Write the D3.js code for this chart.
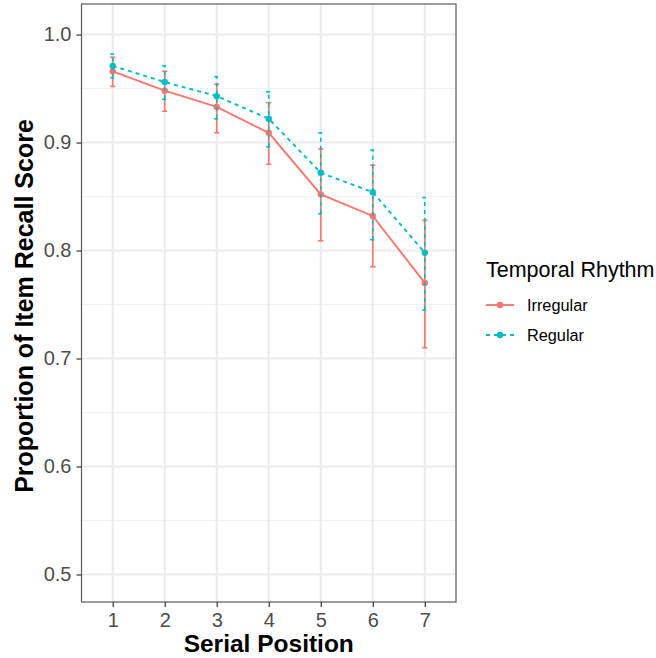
<!DOCTYPE html>
<html>
<head>
<meta charset="utf-8">
<script src="https://cdn.jsdelivr.net/npm/d3@7"></script>
<style>
  body { margin: 0; background: #fff; }
  svg text { font-family: "Liberation Sans", Arial, Helvetica, sans-serif; }
</style>
</head>
<body>
<div id="chart"></div>
<script>
// serial positions 1..7
var positions = [1, 2, 3, 4, 5, 6, 7];
var irregularMean = [0.966, 0.948, 0.933, 0.909, 0.852, 0.832, 0.770];
var irregularLow  = [0.952, 0.929, 0.909, 0.880, 0.809, 0.785, 0.710];
var irregularHigh = [0.979, 0.966, 0.954, 0.937, 0.894, 0.879, 0.828];
var regularMean = [0.971, 0.956, 0.943, 0.922, 0.872, 0.854, 0.798];
var regularLow  = [0.960, 0.940, 0.922, 0.896, 0.834, 0.810, 0.745];
var regularHigh = [0.982, 0.971, 0.961, 0.947, 0.909, 0.893, 0.849];
var yTicks = [0.5, 0.6, 0.7, 0.8, 0.9, 1.0];
var yMinor = [0.55, 0.65, 0.75, 0.85, 0.95];

var series = [
    { name: 'Irregular', color: '#F8766D', dash: null, mean: irregularMean, low: irregularLow, high: irregularHigh },
    { name: 'Regular', color: '#00BFC4', dash: '4,4', mean: regularMean, low: regularLow, high: regularHigh }
];

var W = 656, H = 658;
var panel = { left: 81.5, right: 456, top: 4, bottom: 602 };

var x = d3.scaleLinear().domain([0.4, 7.6]).range([panel.left, panel.right]);
var y = d3.scaleLinear().domain([0.4745, 1.0283]).range([panel.bottom, panel.top]);

var svg = d3.select('#chart').append('svg')
    .attr('width', W)
    .attr('height', H);

var g = svg.append('g');

// grid
g.selectAll('.minor').data(yMinor).enter().append('line')
    .attr('x1', panel.left).attr('x2', panel.right)
    .attr('y1', function(d) { return y(d); }).attr('y2', function(d) { return y(d); })
    .style('stroke', '#F3F3F3').style('stroke-width', 1);

g.selectAll('.ymajor').data(yTicks).enter().append('line')
    .attr('x1', panel.left).attr('x2', panel.right)
    .attr('y1', function(d) { return y(d); }).attr('y2', function(d) { return y(d); })
    .style('stroke', '#EBEBEB').style('stroke-width', 2);

g.selectAll('.xmajor').data(positions).enter().append('line')
    .attr('y1', panel.top).attr('y2', panel.bottom)
    .attr('x1', function(d) { return x(d); }).attr('x2', function(d) { return x(d); })
    .style('stroke', '#EBEBEB').style('stroke-width', 2);

// error bars, lines, points
var capW = 2.6;
series.forEach(function(s) {
    var sg = g.append('g');
    positions.forEach(function(p, i) {
        var eg = sg.append('g')
            .style('stroke', s.color).style('stroke-width', 1.6)
            .style('stroke-dasharray', s.dash);
        eg.append('line')
            .attr('x1', x(p)).attr('x2', x(p))
            .attr('y1', y(s.low[i])).attr('y2', y(s.high[i]));
        eg.append('line')
            .attr('x1', x(p) - capW).attr('x2', x(p) + capW)
            .attr('y1', y(s.low[i])).attr('y2', y(s.low[i]));
        eg.append('line')
            .attr('x1', x(p) - capW).attr('x2', x(p) + capW)
            .attr('y1', y(s.high[i])).attr('y2', y(s.high[i]));
    });

    var line = d3.line()
        .x(function(d, i) { return x(positions[i]); })
        .y(function(d) { return y(d); });

    sg.append('path')
        .datum(s.mean)
        .attr('d', line)
        .style('fill', 'none')
        .style('stroke', s.color)
        .style('stroke-width', 1.9)
        .style('stroke-dasharray', s.dash);

    sg.selectAll('circle').data(s.mean).enter().append('circle')
        .attr('cx', function(d, i) { return x(positions[i]); })
        .attr('cy', function(d) { return y(d); })
        .attr('r', 3.2)
        .style('fill', s.color);
});

// panel border
g.append('rect')
    .attr('x', panel.left).attr('y', panel.top)
    .attr('width', panel.right - panel.left).attr('height', panel.bottom - panel.top)
    .style('fill', 'none').style('stroke', '#5a5a5a').style('stroke-width', 1.2);

// axes
var yAxis = d3.axisLeft(y).tickValues(yTicks).tickFormat(d3.format('.1f')).tickSize(5).tickPadding(5);
var xAxis = d3.axisBottom(x).tickValues(positions).tickFormat(d3.format('d')).tickSize(5).tickPadding(6);

var ya = svg.append('g').attr('transform', 'translate(' + panel.left + ',0)').call(yAxis);
var xa = svg.append('g').attr('transform', 'translate(0,' + panel.bottom + ')').call(xAxis);
[ya, xa].forEach(function(a) {
    a.select('.domain').remove();
    a.selectAll('line').style('stroke', '#333').style('stroke-width', 1.2);
    a.selectAll('text').style('fill', '#4D4D4D').style('font-size', '20px');
});

// axis titles
svg.append('text')
    .attr('x', (panel.left + panel.right) / 2)
    .attr('y', 652)
    .style('text-anchor', 'middle')
    .style('font-size', '24.5px')
    .style('font-weight', 'bold')
    .text('Serial Position');

svg.append('text')
    .attr('transform', 'translate(33,' + (panel.top + panel.bottom + 6) / 2 + ') rotate(-90)')
    .style('text-anchor', 'middle')
    .style('font-size', '25px')
    .style('font-weight', 'bold')
    .text('Proportion of Item Recall Score');

// legend
var lg = svg.append('g').attr('transform', 'translate(470,0)');
lg.append('text')
    .attr('x', 16).attr('y', 277)
    .style('font-size', '21.5px')
    .text('Temporal Rhythm');

series.forEach(function(s, i) {
    var cy = 305 + i * 30;
    lg.append('line')
        .attr('x1', 16).attr('x2', 44)
        .attr('y1', cy).attr('y2', cy)
        .style('stroke', s.color).style('stroke-width', 1.9)
        .style('stroke-dasharray', s.dash);
    lg.append('circle')
        .attr('cx', 30).attr('cy', cy).attr('r', 3.2)
        .style('fill', s.color);
    lg.append('text')
        .attr('x', 57).attr('y', cy + 6)
        .style('font-size', '16.3px')
        .text(s.name);
});
</script>
</body>
</html>
